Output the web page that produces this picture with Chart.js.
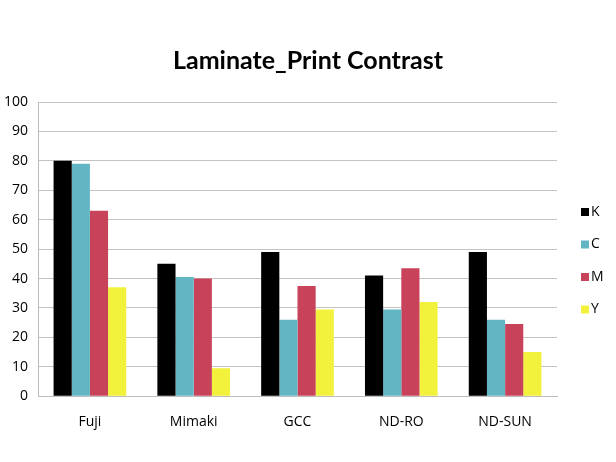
<!DOCTYPE html>
<html><head><meta charset="utf-8">
<script src="https://cdn.jsdelivr.net/npm/chart.js@4/dist/chart.umd.min.js"></script>
<style>html,body{margin:0;padding:0;background:#fff;}#wrap{width:616px;height:462px;}</style>
</head><body><div id="wrap"><canvas id="c" width="616" height="462"></canvas></div>
<script>
const categories = ["Fuji", "Mimaki", "GCC", "ND-RO", "ND-SUN"];
const seriesNames = ["K", "C", "M", "Y"];
const K = [80, 45, 49, 41, 49];
const C = [79, 40.5, 26, 29.5, 26];
const M = [63, 40, 37.5, 43.5, 24.5];
const Y = [37, 9.5, 29.5, 32, 15];
const colors = ["#000000", "#62B6C4", "#C8435A", "#F2F23C"];
const yTicks = [0,10,20,30,40,50,60,70,80,90,100];

const font = "'Open Sans', sans-serif";

const sideLegend = {
  id: 'sideLegend',
  afterDraw(chart) {
    const ctx = chart.ctx;
    const x = chart.chartArea.right + 24;
    const y0 = 212, step = 32.5;
    ctx.save();
    ctx.font = "14px " + font;
    ctx.textBaseline = 'middle';
    ctx.textAlign = 'left';
    chart.data.datasets.forEach((ds, i) => {
      const y = y0 + i * step;
      ctx.fillStyle = ds.backgroundColor;
      ctx.fillRect(x, y - 4, 8, 8);
      ctx.fillStyle = '#000';
      ctx.fillText(ds.label, x + 10, y);
    });
    ctx.restore();
  }
};

new Chart(document.getElementById('c'), {
  type: 'bar',
  data: {
    labels: categories,
    datasets: [K, C, M, Y].map((d, i) => ({
      label: seriesNames[i], data: d, backgroundColor: colors[i],
      borderWidth: 0, categoryPercentage: 0.7, barPercentage: 1.0
    }))
  },
  options: {
    responsive: false, animation: false, devicePixelRatio: 1,
    layout: { padding: { left: 0, right: 0, top: 0, bottom: 15 } },
    plugins: {
      title: { display: true, text: 'Laminate_Print Contrast', color: '#000',
        font: { family: "Lato, sans-serif", size: 25, weight: 'bold' }, padding: { top: 46, bottom: 26 } },
      legend: { display: false },
      tooltip: { enabled: false }
    },
    scales: {
      x: { grid: { display: false, drawTicks: false }, border: { color: '#BDBDBD' },
        ticks: { color: '#000', font: { family: font, size: 14 }, padding: 17 } },
      y: { min: 0, max: 100, afterBuildTicks: a => { a.ticks = yTicks.map(v => ({ value: v })); },
        afterFit: s => { s.width = 38; },
        grid: { color: '#C4C4C4', drawTicks: false }, border: { color: '#BDBDBD' },
        ticks: { color: '#000', font: { family: font, size: 14 }, padding: 10 } },
      yr: { type: 'linear', position: 'right', min: 0, max: 100,
        afterFit: s => { s.width = 59; },
        grid: { display: false, drawTicks: false }, border: { display: false },
        ticks: { display: false } }
    }
  },
  plugins: [sideLegend]
});
</script></body></html>
